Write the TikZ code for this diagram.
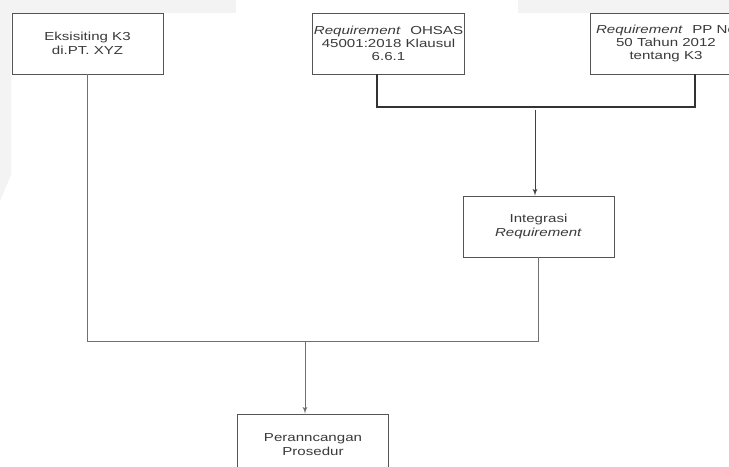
\documentclass[tikz,border=0pt]{standalone}
\usepackage{fontspec}
\setmainfont{Liberation Sans}[FakeStretch=1.3]
\usepackage{tikz}
\usetikzlibrary{arrows,shapes}
\definecolor{boxline}{HTML}{555555}
\definecolor{linegray}{HTML}{707070}
\definecolor{textgray}{HTML}{3A3A3A}
\definecolor{bggray}{HTML}{F3F3F3}
\tikzstyle{box}=[rectangle,draw=boxline,line width=0.7pt,fill=white,minimum width=113.25pt,minimum height=45.75pt,inner sep=1pt,align=center,text=textgray,font=\fontsize{8.7}{10}\selectfont]
\tikzstyle{link} = [draw=linegray,line width=0.75pt,-]
\tikzstyle{bracket} = [draw=black!80,line width=1.5pt,-]

\begin{document}
\begin{tikzpicture}[x=0.75pt,y=-0.75pt]
      \tikzset{flow/.style = {->,>=latex',line width=0.7pt}}
      \useasboundingbox (0,0) rectangle (729,467);
      \clip (0,0) rectangle (729,467);
      % faint background of the scan
      \fill[bggray] (0,0) rectangle (236,13);
      \fill[bggray] (518,0) rectangle (729,13);
      \fill[bggray] (0,13) -- (11,13) -- (11,175) -- (0,201) -- cycle;
      \node[box] (eks) at (87.5,43.5) {Eksisiting K3\\di.PT. XYZ};
      \node[box] (ohsas) at (388.5,43.5) {\textit{Requirement}\hspace{4pt} OHSAS\\45001:2018 Klausul\\6.6.1};
      \node[box] (pp) at (666,43.5) {\textit{Requirement}\hspace{4pt} PP No\\50 Tahun 2012\\tentang K3};
      \node[box] (integ) at (538.5,226.5) {Integrasi\\\textit{Requirement}};
      \node[box] (pros) at (313,444.5) {Peranncangan\\Prosedur};
      \coordinate (fork) at (535,107);
      \coordinate (join) at (305,341);
      \draw[bracket] ([xshift=-8.6pt]ohsas.south) |- (fork) -| ([xshift=21.75pt]pp.south);
      \draw[flow,draw=black!75] ([yshift=-2pt]fork) -- (fork |- integ.north);
      \draw[link] (eks.south) |- (integ.south |- join) -- (integ.south);
      \draw[flow,draw=linegray] (join) -- (join |- pros.north);
\end{tikzpicture}
\end{document}
